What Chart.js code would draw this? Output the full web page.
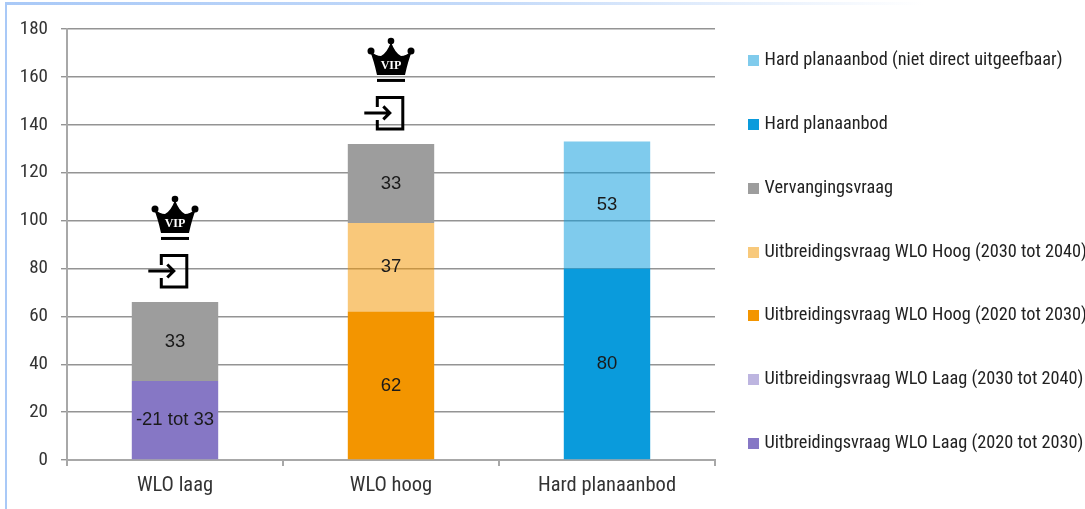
<!DOCTYPE html>
<html><head><meta charset="utf-8">
<script src="https://cdn.jsdelivr.net/npm/chart.js@4"></script>
<style>
html,body{margin:0;padding:0;background:#fff;overflow:hidden}
#wrap{position:relative;width:1085px;height:509px}
#top{position:absolute;left:5px;top:2px;width:1080px;height:3px;background:linear-gradient(90deg,#a9c9f7 0%,#c4daf9 45%,#ffffff 85%)}
#left{position:absolute;left:5px;top:2px;width:2px;height:507px;background:#a9c9f7}
canvas{position:absolute;left:0;top:0}
</style></head><body>
<div id="wrap"><div id="top"></div><div id="left"></div><canvas id="c" width="1085" height="509"></canvas></div>
<script>
const categories = ['WLO laag', 'WLO hoog', 'Hard planaanbod'];
const laag2020 = [33, null, null];
const laag2030 = [null, null, null];
const hoog2020 = [null, 62, null];
const hoog2030 = [null, 37, null];
const vervanging = [33, 33, null];
const hard = [null, null, 80];
const hardNiet = [null, null, 53];
const yTicks = [0, 20, 40, 60, 80, 100, 120, 140, 160, 180];
const pointLabels = {0: '-21 tot 33'};
const stackTotals = [66, 132, null];
const legendSwatches = ['#8677c5', '#bdb5e0', '#f39500', '#f8c97b', '#9d9d9d', '#0a9bdc', '#80cbec'];
const FONT_NARROW = '"Liberation Sans Narrow","Roboto Condensed","Liberation Sans",sans-serif';

const ds = (label, data, color) => ({label, data, backgroundColor: color, borderWidth: 0, stack: 's', barPercentage: 0.4, categoryPercentage: 1});

const swatch = (color) => {
  const c = document.createElement('canvas');
  c.width = 11; c.height = 11;
  const g = c.getContext('2d');
  g.fillStyle = color; g.fillRect(0, 0, 11, 11);
  return c;
};

const legendShift = {
  id: 'legendShift',
  afterLayout(chart) {
    const l = chart.legend;
    l.left -= 9; l.right = chart.width;
    l.top -= 24; l.bottom -= 24;
  }
};

const iconsPlugin = {
  id: 'icons',
  afterDatasetsDraw(chart) {
    const {ctx, scales: {x, y}} = chart;
    stackTotals.forEach((t, i) => {
      if (t === null) return;
      const cx = x.getPixelForValue(i), top = y.getPixelForValue(t);
      const ay = top - 31, cy = top - 83, bx = cx - 0.7;
      ctx.save();
      ctx.strokeStyle = '#000'; ctx.fillStyle = '#000'; ctx.lineCap = 'butt'; ctx.lineJoin = 'miter';
      ctx.lineWidth = 3;
      ctx.beginPath();
      ctx.moveTo(bx - 13, ay - 6); ctx.lineTo(bx - 13, ay - 15.5); ctx.lineTo(bx + 12.5, ay - 15.5);
      ctx.lineTo(bx + 12.5, ay + 16); ctx.lineTo(bx - 13, ay + 16); ctx.lineTo(bx - 13, ay + 7);
      ctx.stroke();
      ctx.beginPath();
      ctx.moveTo(bx - 26, ay); ctx.lineTo(bx - 1, ay);
      ctx.moveTo(bx - 7, ay - 6.5); ctx.lineTo(bx - 0.5, ay); ctx.lineTo(bx - 7, ay + 6.5);
      ctx.stroke();
      ctx.beginPath();
      ctx.moveTo(cx - 14, cy + 14);
      ctx.quadraticCurveTo(cx - 17, cy, cx - 21, cy - 10);
      ctx.quadraticCurveTo(cx - 15, cy - 5, cx - 10, cy - 5);
      ctx.quadraticCurveTo(cx - 4, cy - 8, cx, cy - 19);
      ctx.quadraticCurveTo(cx + 4, cy - 8, cx + 10, cy - 5);
      ctx.quadraticCurveTo(cx + 15, cy - 5, cx + 21, cy - 10);
      ctx.quadraticCurveTo(cx + 17, cy, cx + 14, cy + 14);
      ctx.closePath(); ctx.fill();
      [[0, -20, 3.3], [-20, -10, 3.5], [20, -10, 3.5]].forEach(([dx, dy, r]) => {
        ctx.beginPath(); ctx.arc(cx + dx, cy + dy, r, 0, Math.PI * 2); ctx.fill();
      });
      ctx.fillRect(cx - 14, cy + 18, 28, 3);
      ctx.fillStyle = '#fff';
      ctx.font = 'bold 12px "Liberation Serif",serif';
      ctx.textAlign = 'center'; ctx.textBaseline = 'middle';
      ctx.fillText('VIP', cx, cy + 5);
      ctx.restore();
    });
  }
};

const labelsPlugin = {
  id: 'barLabels',
  afterDatasetsDraw(chart) {
    const {ctx} = chart;
    ctx.save();
    ctx.font = '18.5px "Liberation Sans",Arial,sans-serif';
    ctx.fillStyle = '#1a1a1a'; ctx.textAlign = 'center'; ctx.textBaseline = 'middle';
    chart.data.datasets.forEach((d, di) => {
      const meta = chart.getDatasetMeta(di);
      d.data.forEach((v, i) => {
        if (v === null) return;
        const el = meta.data[i];
        const text = (di === 0 && pointLabels[i]) ? pointLabels[i] : String(v);
        ctx.fillText(text, el.x, (el.y + el.base) / 2);
      });
    });
    ctx.restore();
  }
};

new Chart(document.getElementById('c'), {
  type: 'bar',
  data: {
    labels: categories,
    datasets: [
      ds('Uitbreidingsvraag WLO Laag (2020 tot 2030)', laag2020, '#8677c5'),
      ds('Uitbreidingsvraag WLO Laag (2030 tot 2040)', laag2030, 'rgba(134,119,197,.55)'),
      ds('Uitbreidingsvraag WLO Hoog (2020 tot 2030)', hoog2020, '#f39500'),
      ds('Uitbreidingsvraag WLO Hoog (2030 tot 2040)', hoog2030, 'rgba(243,149,0,.52)'),
      ds('Vervangingsvraag', vervanging, '#9d9d9d'),
      ds('Hard planaanbod', hard, '#0a9bdc'),
      ds('Hard planaanbod (niet direct uitgeefbaar)', hardNiet, 'rgba(10,155,220,.52)')
    ]
  },
  options: {
    responsive: false,
    animation: false,
    layout: {padding: {top: 29, bottom: -14, left: 0, right: 0}},
    plugins: {
      tooltip: {enabled: false},
      legend: {
        position: 'right',
        reverse: true,
        maxWidth: 370,
        labels: {
          usePointStyle: true, pointStyleWidth: 4, boxHeight: 11, padding: 45.4,
          color: '#222',
          font: {family: FONT_NARROW, size: 18.3},
          generateLabels(chart) {
            return Chart.defaults.plugins.legend.labels.generateLabels(chart)
              .map((it, i) => Object.assign(it, {pointStyle: swatch(legendSwatches[i])}));
          }
        }
      }
    },
    scales: {
      x: {
        stacked: true,
        border: {color: '#a8a8a8', width: 2},
        grid: {display: true, drawOnChartArea: false, drawTicks: true, tickLength: 6, color: '#a8a8a8', lineWidth: 2, offset: true},
        ticks: {color: '#333', font: {family: FONT_NARROW, size: 20.5}, padding: 8, maxRotation: 0},
        afterFit(s) { s.height = 63; }
      },
      y: {
        stacked: true, min: 0, max: 180,
        border: {color: '#a8a8a8', width: 2},
        grid: {color: '#949494', lineWidth: 1.4, tickLength: 6},
        afterBuildTicks(s) { s.ticks = yTicks.map(value => ({value})); },
        ticks: {color: '#333', font: {family: FONT_NARROW, size: 19}, padding: 13},
        afterFit(s) { s.width = 67; }
      }
    }
  },
  plugins: [legendShift, iconsPlugin, labelsPlugin]
});
</script>
</body></html>
